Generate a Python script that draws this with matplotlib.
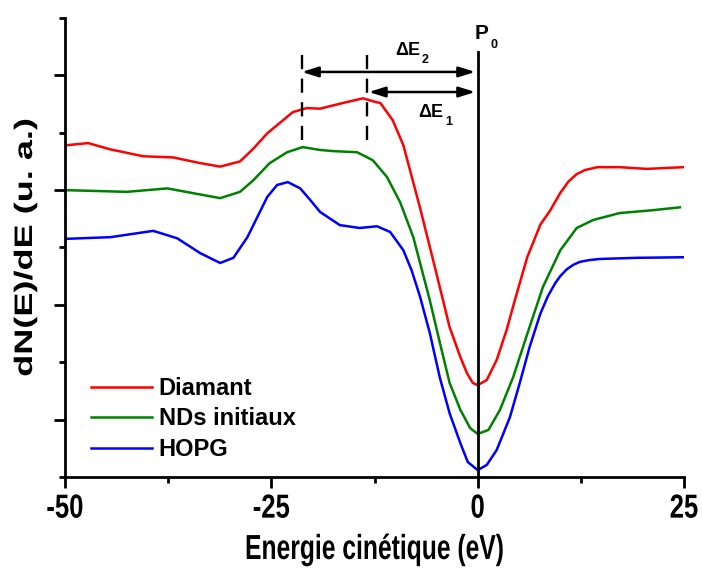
import matplotlib
matplotlib.use('Agg')
import matplotlib.pyplot as plt
from matplotlib.ticker import MultipleLocator, NullFormatter
from matplotlib.patheffects import AbstractPathEffect
from matplotlib.path import Path
from matplotlib.transforms import IdentityTransform

plt.rcParams['font.family'] = ['Liberation Sans', 'DejaVu Sans']
plt.rcParams['font.weight'] = 'bold'
plt.rcParams['axes.unicode_minus'] = False

# energy (eV) / signal (arb. units)
diamant_x = [-50, -47.2, -44.5, -40.5, -36.9, -33.6, -31.2, -28.8, -27.2, -25.5,
             -23.9, -22.4, -20.7, -19.1, -16.3, -13.9, -12.2, -11.8, -10.3, -9.0,
             -7.0, -5.4, -4.2, -3.4, -2.1, -1.3, -0.6, 0, 1.1, 2.3,
             3.5, 4.5, 6.0, 7.6, 8.8, 10.0, 11.0, 12.0, 13.0, 14.5, 17.2, 20.5, 24.9]
diamant_y = [5.78, 5.82, 5.71, 5.59, 5.57, 5.47, 5.41, 5.50, 5.72, 5.99,
             6.18, 6.36, 6.43, 6.42, 6.52, 6.60, 6.53, 6.52, 6.22, 5.78,
             4.70, 3.78, 3.08, 2.61, 2.09, 1.81, 1.64, 1.60, 1.69, 2.04,
             2.56, 3.08, 3.83, 4.40, 4.65, 4.95, 5.15, 5.28, 5.35, 5.40, 5.40, 5.37, 5.40]

nds_x = [-50, -42.5, -37.6, -31.2, -28.8, -27.2, -25.2, -23.1, -21.2, -19.1,
         -17.5, -14.6, -12.7, -11.0, -9.4, -7.8, -5.8, -4.6, -3.4, -2.1, -0.9,
         0, 1.3, 2.7, 4.3, 6.0, 7.9, 10.0, 12.0, 14.0, 17.2, 21.2, 24.5]
nds_y = [5.00, 4.97, 5.03, 4.86, 4.97, 5.17, 5.47, 5.66, 5.75, 5.70,
         5.68, 5.66, 5.52, 5.23, 4.79, 4.18, 3.08, 2.35, 1.64, 1.17, 0.85,
         0.75, 0.82, 1.17, 1.74, 2.49, 3.31, 3.95, 4.34, 4.48, 4.60, 4.65, 4.70]

hopg_x = [-50, -44.5, -39.3, -36.4, -33.6, -31.2, -29.6, -27.9, -26.7, -25.5,
          -24.3, -23.0, -21.5, -20.3, -19.1, -16.7, -14.3, -12.2, -10.6, -9.0,
          -8.0, -7.0, -5.8, -4.6, -3.4, -2.1, -1.2, 0, 1.1, 2.3, 3.9, 5.1,
          6.3, 7.6, 8.5, 9.4, 10.0, 10.8, 11.6, 12.4, 13.5, 14.8, 19.3, 24.9]
hopg_y = [4.15, 4.18, 4.29, 4.16, 3.90, 3.73, 3.82, 4.18, 4.53, 4.88,
          5.09, 5.14, 5.03, 4.83, 4.62, 4.39, 4.34, 4.37, 4.27, 3.95,
          3.60, 3.15, 2.51, 1.74, 1.11, 0.59, 0.26, 0.12, 0.21, 0.47, 1.04, 1.64,
          2.27, 2.85, 3.15, 3.38, 3.50, 3.62, 3.70, 3.75, 3.78, 3.80, 3.82, 3.83]

labels = ['Diamant', 'NDs initiaux', 'HOPG']
colors = ['#ff0000', '#008000', '#0000ff']
xticks = [-50, -25, 0, 25]
xtick_labels = ['-50', '-25', '0', '25']

# marker positions for the annotation
e_peak2 = -21.3
e_peak1 = -13.4
e_p0 = 0.0


class Squash(AbstractPathEffect):
    """Draw text narrower than the font, like the condensed labels of the original."""

    def __init__(self, sx=0.7):
        super().__init__()
        self.sx = sx

    def draw_path(self, renderer, gc, tpath, affine, rgbFace=None):
        v = affine.transform(tpath.vertices)
        codes = tpath.codes
        pts = v if codes is None else v[codes != Path.CLOSEPOLY]
        if len(pts):
            cx = (pts[:, 0].min() + pts[:, 0].max()) / 2
            v[:, 0] = cx + (v[:, 0] - cx) * self.sx
        renderer.draw_path(gc, Path(v, codes), IdentityTransform(), rgbFace)


fig = plt.figure(figsize=(7.02, 5.70), dpi=100)
ax = fig.add_axes([0.0926, 0.1632, 0.8818, 0.8052])

for xs, ys, lab, col in zip([diamant_x, nds_x, hopg_x], [diamant_y, nds_y, hopg_y],
                            labels, colors):
    ax.plot(xs, ys, color=col, lw=1.8, label=lab)

ax.set_xlim(-50, 25)
ax.set_ylim(0, 8)
ax.set_xticks(xticks)
ax.set_xticklabels(xtick_labels, fontsize=24, fontweight='bold',
                   path_effects=[Squash(0.77)])
ax.xaxis.set_minor_locator(MultipleLocator(12.5))
ax.yaxis.set_major_locator(MultipleLocator(2, offset=1))
ax.yaxis.set_minor_locator(MultipleLocator(1))
ax.yaxis.set_major_formatter(NullFormatter())
ax.tick_params(which='major', direction='out', length=8, width=2, pad=4)
ax.tick_params(which='minor', direction='out', length=4.5, width=2)
for side in ['top', 'right']:
    ax.spines[side].set_visible(False)
for side in ['left', 'bottom']:
    ax.spines[side].set_linewidth(2)

ax.set_xlabel('Energie cinétique (eV)', fontsize=25, fontweight='bold',
              labelpad=6, path_effects=[Squash(0.71)])
ax.set_ylabel('dN(E)/dE (u. a.)', fontsize=26, fontweight='bold',
              labelpad=4, path_effects=[Squash(0.70)])

# annotation: peak markers, P0 line and energy arrows
ax.plot([e_peak2, e_peak2], [5.87, 7.40], color='black', lw=1.7, ls=(0, (6, 4)))
ax.plot([e_peak1, e_peak1], [5.87, 7.40], color='black', lw=1.7, ls=(0, (6, 4)))
ax.plot([e_p0, e_p0], [0, 7.40], color='black', lw=2)
arrow = dict(arrowstyle='<|-|>,head_length=0.7,head_width=0.22', color='black',
             lw=1.8, mutation_scale=14, shrinkA=0, shrinkB=0)
ax.annotate('', xy=(e_p0 - 0.3, 7.06), xytext=(e_peak2, 7.06), arrowprops=arrow)
ax.annotate('', xy=(e_p0 - 0.3, 6.71), xytext=(e_peak1 + 0.2, 6.71), arrowprops=arrow)

ax.text(-10.0, 7.35, 'ΔE', fontsize=13, ha='left', va='baseline')
ax.text(-6.85, 7.21, '2', fontsize=9, ha='left', va='baseline')
ax.text(-7.25, 6.27, 'ΔE', fontsize=13, ha='left', va='baseline')
ax.text(-3.95, 6.13, '1', fontsize=9, ha='left', va='baseline')
ax.text(-0.35, 7.63, 'P', fontsize=15, ha='left', va='baseline')
ax.text(1.5, 7.47, '0', fontsize=9, ha='left', va='baseline')

leg = ax.legend(loc='upper left', bbox_to_anchor=(0.042, 0.218), frameon=False,
                fontsize=17, handlelength=2.6, handletextpad=0.26,
                labelspacing=0.32, borderaxespad=0, borderpad=0)
for t in leg.get_texts():
    t.set_fontweight('bold')

fig.savefig('out.png', dpi=100)
